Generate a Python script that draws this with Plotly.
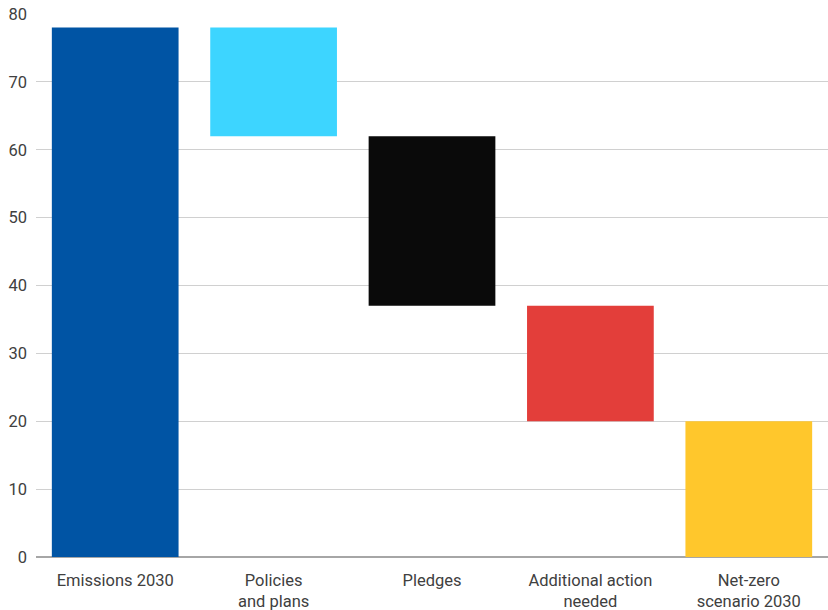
import plotly.graph_objects as go

categories = ["Emissions 2030", "Policies<br>and plans", "Pledges", "Additional action<br>needed", "Net-zero<br>scenario 2030"]
bar_bottoms = [0, 62, 37, 20, 0]
bar_tops = [78, 78, 62, 37, 20]
colors = ["#0054A4", "#3DD5FF", "#0A0A0A", "#E33E3A", "#FFC72C"]
y_ticks = [0, 10, 20, 30, 40, 50, 60, 70, 80]

heights = [t - b for t, b in zip(bar_tops, bar_bottoms)]

fig = go.Figure(go.Bar(
    x=categories, y=heights, base=bar_bottoms,
    marker=dict(color=colors, line=dict(width=0)),
    hoverinfo="skip",
))

font_family = "Roboto, sans-serif"
fig.update_layout(
    width=828, height=610,
    margin=dict(l=36, r=0, t=14, b=53),
    paper_bgcolor="white", plot_bgcolor="white",
    bargap=0.2,
    showlegend=False,
    font=dict(family=font_family, size=16, color="#404040"),
    xaxis=dict(showgrid=False, showline=False, ticks="", ticklabelstandoff=11, automargin=False,
               tickfont=dict(size=16.5, color="#404040")),
    yaxis=dict(range=[0, 80], tickvals=y_ticks, showgrid=True, gridcolor="#D0D0D0", gridwidth=1,
               zeroline=True, zerolinecolor="#A6A6A6", zerolinewidth=1.5, automargin=False,
               ticks="", ticklabelstandoff=8, tickfont=dict(size=16.5, color="#404040")),
)
fig.write_html("out.html")
